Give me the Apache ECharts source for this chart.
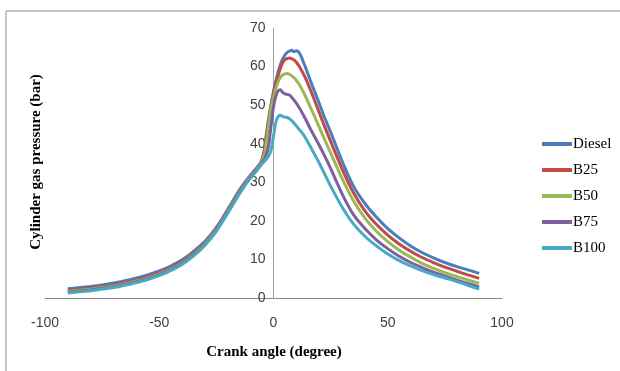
<!DOCTYPE html>
<html>
<head>
<meta charset="utf-8">
<script src="https://cdn.jsdelivr.net/npm/echarts@6/dist/echarts.min.js"></script>
<style>
  html, body { margin: 0; padding: 0; background: #fff; }
  #chart { width: 620px; height: 371px; }
</style>
</head>
<body>
<div id="chart"></div>
<script>
// Crank angle (degree) sample points, shared by every fuel
const crankAngle = [-90,-85,-80,-75,-70,-65,-60,-55,-50,-45,-40,-35,-30,-25,-20,-15,-12,-10,-8,-6,
  -5,-4,-3,-2,-1,0,1,2,3,4,5,6,7,8,9,10,11,12,13,14,
  16,18,20,22,25,
  30,35,40,45,50,55,60,65,70,75,80,85,90];

// Cylinder gas pressure (bar) for each fuel
const diesel = [2.4,2.7,3.0,3.4,3.9,4.5,5.2,6.0,7.0,8.3,9.9,12.1,14.7,18.3,23.0,27.9,30.4,31.9,33.3,34.8,
  36.0,38.5,43.0,47.0,50.3,53.5,56.2,58.5,60.5,62.0,63.0,63.7,64.0,64.2,63.9,64.1,63.8,62.8,61.3,59.8,
  56.6,53.5,50.5,47.3,43.0,
  35.5,29.0,24.5,21.0,18.0,15.6,13.5,11.8,10.4,9.2,8.2,7.3,6.4];
const b25 = [2.0,2.3,2.6,3.0,3.4,4.0,4.7,5.5,6.5,7.8,9.4,11.6,14.4,18.0,22.7,27.6,30.2,31.7,33.1,34.6,
  35.9,38.2,42.5,46.5,50.0,53.0,55.5,57.6,59.5,61.0,61.8,62.1,62.2,62.0,61.7,61.1,60.3,59.3,58.2,57.0,
  54.2,51.2,48.1,45.0,40.6,
  33.5,27.3,22.6,19.1,16.3,14.0,12.1,10.5,9.2,8.0,7.0,6.0,5.1];
const b50 = [1.7,2.0,2.3,2.7,3.1,3.7,4.4,5.2,6.2,7.5,9.1,11.3,14.1,17.7,22.4,27.3,30.0,31.5,32.9,34.4,
  35.6,37.2,41.0,45.5,49.3,52.0,54.3,56.0,57.2,57.8,58.1,58.2,58.0,57.6,57.1,56.4,55.6,54.6,53.5,52.3,
  49.7,47.0,44.3,41.6,37.6,
  31.0,25.2,20.7,17.3,14.6,12.4,10.6,9.0,7.7,6.6,5.6,4.7,3.8];
const b75 = [1.5,1.8,2.1,2.5,2.9,3.5,4.2,5.0,6.0,7.3,8.9,11.1,13.9,17.5,22.2,27.1,29.8,31.3,32.7,34.2,
  35.2,36.0,37.4,40.0,45.0,49.5,52.3,53.7,54.0,53.3,52.9,52.8,52.6,52.0,51.3,50.5,49.6,48.6,47.5,46.4,
  44.0,41.8,39.6,37.3,33.6,
  27.0,21.6,18.0,15.1,12.8,10.8,9.2,7.9,6.7,5.7,4.7,3.8,2.9];
const b100 = [1.3,1.6,1.9,2.3,2.7,3.3,4.0,4.8,5.8,7.1,8.7,10.9,13.7,17.3,22.0,26.9,29.6,31.1,32.5,34.0,
  34.8,35.4,36.1,36.9,38.5,42.0,45.5,47.0,47.4,47.1,46.9,46.8,46.5,46.0,45.3,44.6,43.9,43.2,42.4,41.5,
  39.4,37.2,35.0,32.6,29.0,
  23.6,19.2,16.0,13.5,11.4,9.7,8.3,7.1,6.1,5.2,4.3,3.3,2.3];

const fuelNames = ['Diesel', 'B25', 'B50', 'B75', 'B100'];
const fuelValues = [diesel, b25, b50, b75, b100];
const fuelColors = ['#4A7EBB', '#BE4B48', '#98B954', '#7D60A0', '#46AAC5'];

// x-axis tick settings
const angleMin = -100, angleMax = 100, angleStep = 50;
// y-axis tick settings
const pressureMin = 0, pressureMax = 70, pressureStep = 10;

const tickFont = { fontFamily: 'Liberation Sans', fontSize: 14, color: '#404040' };

const gridLeft = 45, gridRight = 118;
const plotWidth = 620 - gridLeft - gridRight;
// the value axis crosses the horizontal axis at 0 degrees
const yAxisShift = -plotWidth * (0 - angleMin) / (angleMax - angleMin);

const chart = echarts.init(document.getElementById('chart'), null, { renderer: 'canvas' });

chart.setOption({
  animation: false,
  backgroundColor: '#ffffff',
  grid: { left: gridLeft, right: gridRight, top: 28, bottom: 73, containLabel: false },
  xAxis: {
    type: 'value',
    min: angleMin, max: angleMax, interval: angleStep,
    axisLine: { onZero: false, lineStyle: { color: '#8a8a8a', width: 1 } },
    axisTick: { show: false },
    splitLine: { show: false },
    axisLabel: Object.assign({ margin: 18 }, tickFont)
  },
  yAxis: {
    type: 'value',
    min: pressureMin, max: pressureMax, interval: pressureStep,
    offset: yAxisShift,
    axisLine: { show: true, onZero: false, lineStyle: { color: '#a0a0a0', width: 1 } },
    axisTick: { show: false },
    splitLine: { show: false },
    axisLabel: Object.assign({ margin: 8 }, tickFont)
  },
  legend: {
    orient: 'vertical',
    left: 537, top: 131,
    icon: 'rect',
    itemWidth: 30, itemHeight: 4,
    itemGap: 10,
    textStyle: { fontFamily: 'Liberation Serif', fontSize: 15, color: '#000', lineHeight: 16, padding: [0, 0, 0, -4] },
    data: fuelNames
  },
  series: fuelNames.map((name, i) => ({
    name: name,
    type: 'line',
    symbol: 'none',
    smooth: 0.25,
    color: fuelColors[i],
    lineStyle: { color: fuelColors[i], width: 3 },
    data: crankAngle.map((a, k) => [a, fuelValues[i][k]])
  })),
  graphic: [
    { type: 'line', shape: { x1: 6, y1: 11, x2: 620, y2: 11 }, style: { stroke: '#8c8c8c', lineWidth: 1 }, silent: true },
    { type: 'line', shape: { x1: 6, y1: 11, x2: 6, y2: 371 }, style: { stroke: '#8c8c8c', lineWidth: 1 }, silent: true },
    {
      type: 'text', x: 36, y: 162, rotation: Math.PI / 2,
      style: { text: 'Cylinder gas pressure (bar)', font: 'bold 15px "Liberation Serif"', fill: '#000', align: 'center', verticalAlign: 'middle' }
    },
    {
      type: 'text', x: 274, y: 352,
      style: { text: 'Crank angle (degree)', font: 'bold 15px "Liberation Serif"', fill: '#000', align: 'center', verticalAlign: 'middle' }
    }
  ]
});
</script>
</body>
</html>
